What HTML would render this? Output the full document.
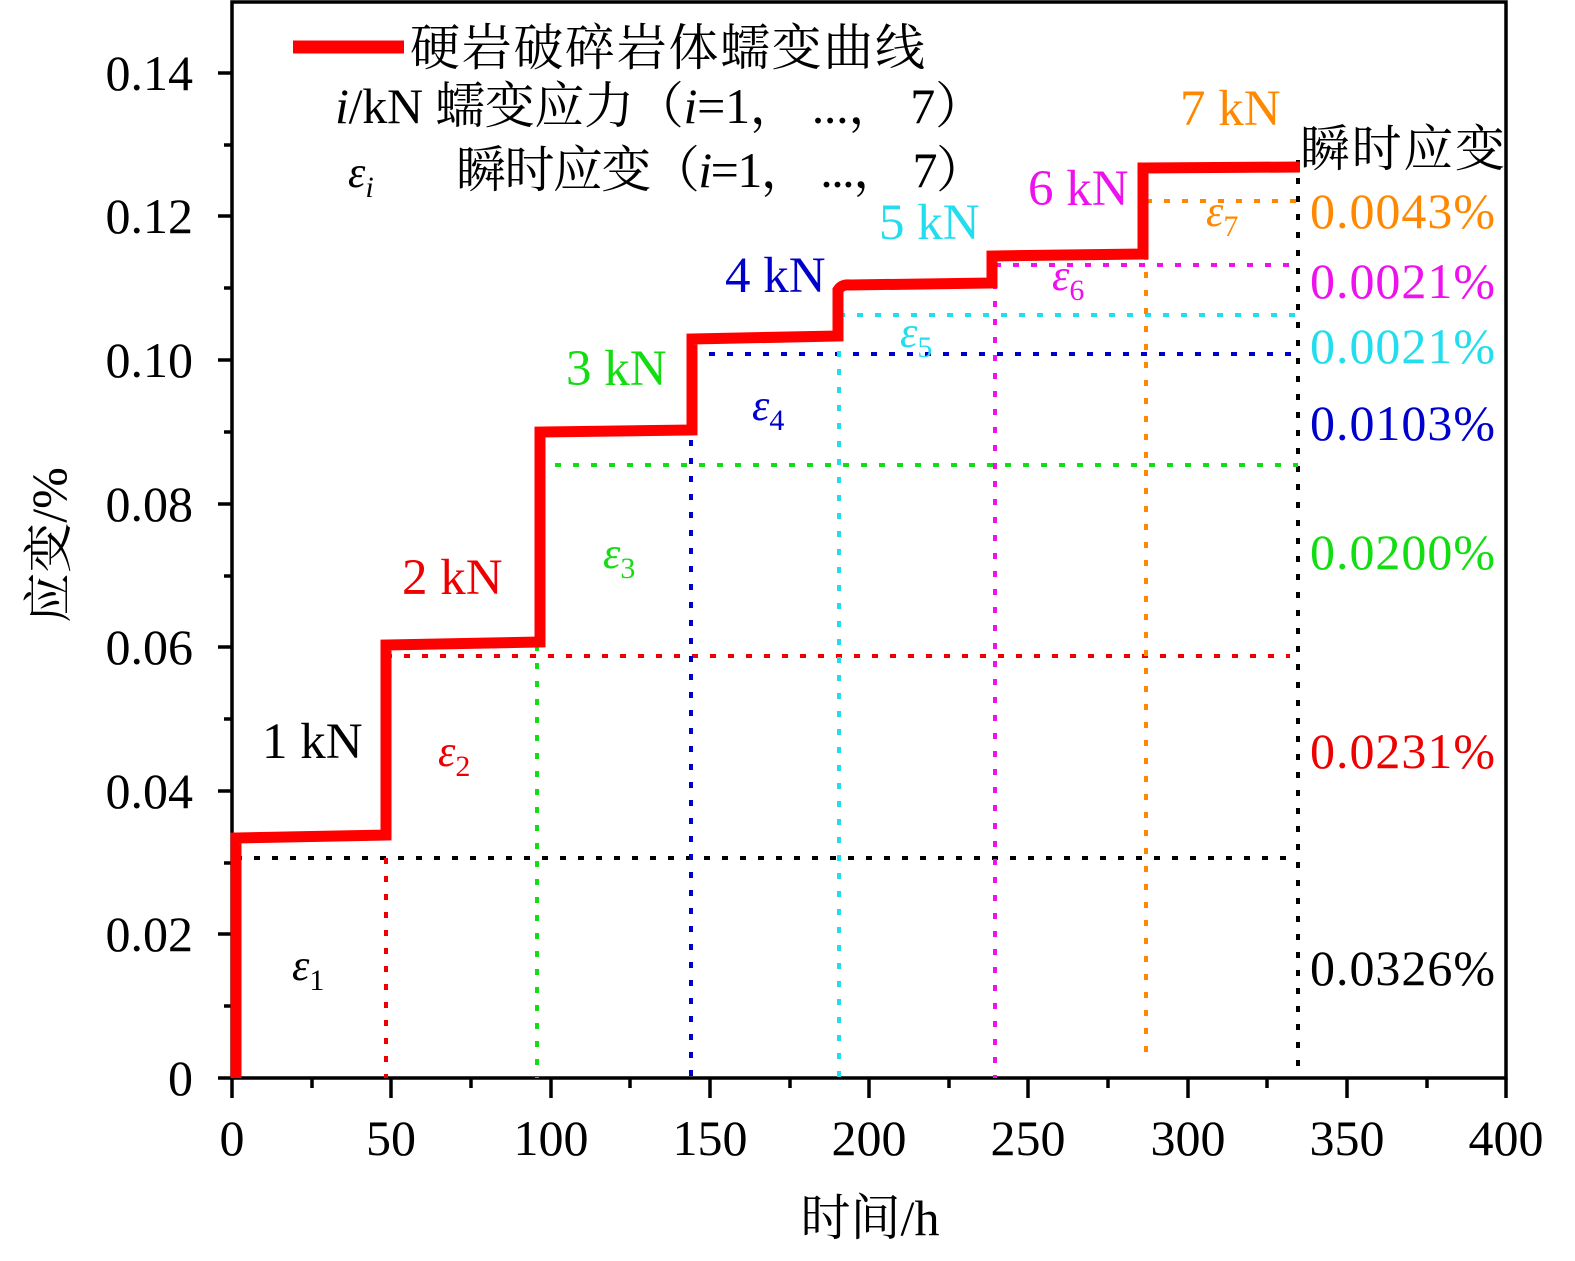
<!DOCTYPE html>
<html><head><meta charset="utf-8"><style>
body{margin:0;background:#fff}
svg text{font-family:"Liberation Serif","Noto Serif CJK SC",serif}
</style></head><body>
<svg width="1575" height="1256" viewBox="0 0 1575 1256" xmlns="http://www.w3.org/2000/svg">
<g stroke="#000" stroke-width="3.5" fill="none">
<rect x="232" y="2" width="1274" height="1076"/>
</g>
<g stroke="#000" stroke-width="3.5">
<line x1="232" y1="1078" x2="232" y2="1098"/><line x1="391" y1="1078" x2="391" y2="1098"/>
<line x1="551" y1="1078" x2="551" y2="1098"/><line x1="710" y1="1078" x2="710" y2="1098"/>
<line x1="869" y1="1078" x2="869" y2="1098"/><line x1="1028" y1="1078" x2="1028" y2="1098"/>
<line x1="1188" y1="1078" x2="1188" y2="1098"/><line x1="1347" y1="1078" x2="1347" y2="1098"/>
<line x1="1506" y1="1078" x2="1506" y2="1098"/>
<line x1="312" y1="1078" x2="312" y2="1088"/><line x1="471" y1="1078" x2="471" y2="1088"/>
<line x1="630" y1="1078" x2="630" y2="1088"/><line x1="790" y1="1078" x2="790" y2="1088"/>
<line x1="949" y1="1078" x2="949" y2="1088"/><line x1="1108" y1="1078" x2="1108" y2="1088"/>
<line x1="1267" y1="1078" x2="1267" y2="1088"/><line x1="1427" y1="1078" x2="1427" y2="1088"/>
<line x1="218" y1="1078" x2="232" y2="1078"/><line x1="218" y1="934" x2="232" y2="934"/>
<line x1="218" y1="791" x2="232" y2="791"/><line x1="218" y1="647" x2="232" y2="647"/>
<line x1="218" y1="504" x2="232" y2="504"/><line x1="218" y1="360" x2="232" y2="360"/>
<line x1="218" y1="216" x2="232" y2="216"/><line x1="218" y1="73" x2="232" y2="73"/>
<line x1="224" y1="1006" x2="232" y2="1006"/><line x1="224" y1="863" x2="232" y2="863"/>
<line x1="224" y1="719" x2="232" y2="719"/><line x1="224" y1="576" x2="232" y2="576"/>
<line x1="224" y1="432" x2="232" y2="432"/><line x1="224" y1="288" x2="232" y2="288"/>
<line x1="224" y1="145" x2="232" y2="145"/>
</g>
<g font-size="50" fill="#000">
<g text-anchor="middle">
<text x="232" y="1155">0</text><text x="391" y="1155">50</text><text x="551" y="1155">100</text>
<text x="710" y="1155">150</text><text x="869" y="1155">200</text><text x="1028" y="1155">250</text>
<text x="1188" y="1155">300</text><text x="1347" y="1155">350</text><text x="1506" y="1155">400</text>
</g>
<g text-anchor="end">
<text x="193" y="1095">0</text><text x="193" y="951">0.02</text><text x="193" y="808">0.04</text>
<text x="193" y="664">0.06</text><text x="193" y="521">0.08</text><text x="193" y="377">0.10</text>
<text x="193" y="233">0.12</text><text x="193" y="90">0.14</text>
</g>
<text x="870" y="1235" text-anchor="middle">时间/h</text>
<text transform="translate(66,545) rotate(-90)" text-anchor="middle">应变/%</text>
</g>
<g stroke-width="4" stroke-dasharray="6,12" fill="none">
<path d="M236 858H1298 M1298 160V1078 M236 840V1078" stroke="#000"/>
<path d="M386 858V1078 M386 656H1290" stroke="#e00"/>
<path d="M537 465V1078 M537 465H1298" stroke="#1d1"/>
<path d="M691 440V1078 M691 354H1298" stroke="#00c"/>
<path d="M839 315V1078 M839 315H1298" stroke="#2de"/>
<path d="M995 265V1078 M995 265H1298" stroke="#e1e"/>
<path d="M1146 200V1055 M1146 201H1298" stroke="#f80"/>
</g>
<path d="M236 1078 V838 L386 835 V645 L540 642 V432 L692 430 V339 L838 336 V290 Q842 284 850 285 L992 283 V256 L1143 254 V168 L1300 167" stroke="#f00" stroke-width="11" fill="none"/>
<line x1="293" y1="47" x2="404" y2="47" stroke="#f00" stroke-width="13"/>
<g font-size="50" fill="#000">
<text x="410" y="65" textLength="515">硬岩破碎岩体蠕变曲线</text>
<text x="335" y="123" textLength="650"><tspan font-style="italic">i</tspan>/kN  蠕变应力（<tspan font-style="italic">i</tspan>=1， ...， 7）</text>
<text x="348" y="187" font-size="44"><tspan font-style="italic">ε</tspan><tspan font-size="30" font-style="italic" dy="10">i</tspan></text>
<text x="456" y="187" textLength="530">瞬时应变（<tspan font-style="italic">i</tspan>=1， ...， 7）</text>
<text x="1300" y="166" textLength="205">瞬时应变</text>
</g>
<g font-size="51">
<text x="262" y="758" fill="#000">1 kN</text>
<text x="402" y="594" fill="#e00">2 kN</text>
<text x="566" y="385" fill="#1d1">3 kN</text>
<text x="725" y="292" fill="#00c">4 kN</text>
<text x="879" y="239" fill="#2de">5 kN</text>
<text x="1028" y="205" fill="#e1e">6 kN</text>
<text x="1180" y="125" fill="#f80">7 kN</text>
<g font-size="50">
<text x="1310" y="228" fill="#f80" textLength="185">0.0043%</text>
<text x="1310" y="298" fill="#e1e" textLength="185">0.0021%</text>
<text x="1310" y="363" fill="#2de" textLength="185">0.0021%</text>
<text x="1310" y="440" fill="#00c" textLength="185">0.0103%</text>
<text x="1310" y="569" fill="#1d1" textLength="185">0.0200%</text>
<text x="1310" y="768" fill="#e00" textLength="185">0.0231%</text>
<text x="1310" y="985" fill="#000" textLength="185">0.0326%</text>
</g>
<g font-style="italic" font-size="44">
<text x="292" y="980" fill="#000">ε<tspan font-size="30" font-style="normal" dy="10">1</tspan></text>
<text x="438" y="766" fill="#e00">ε<tspan font-size="30" font-style="normal" dy="10">2</tspan></text>
<text x="603" y="568" fill="#1d1">ε<tspan font-size="30" font-style="normal" dy="10">3</tspan></text>
<text x="752" y="420" fill="#00c">ε<tspan font-size="30" font-style="normal" dy="10">4</tspan></text>
<text x="900" y="347" fill="#2de">ε<tspan font-size="30" font-style="normal" dy="10">5</tspan></text>
<text x="1052" y="290" fill="#e1e">ε<tspan font-size="30" font-style="normal" dy="10">6</tspan></text>
<text x="1206" y="226" fill="#f80">ε<tspan font-size="30" font-style="normal" dy="10">7</tspan></text>
</g>
</g>
</svg>
</body></html>
